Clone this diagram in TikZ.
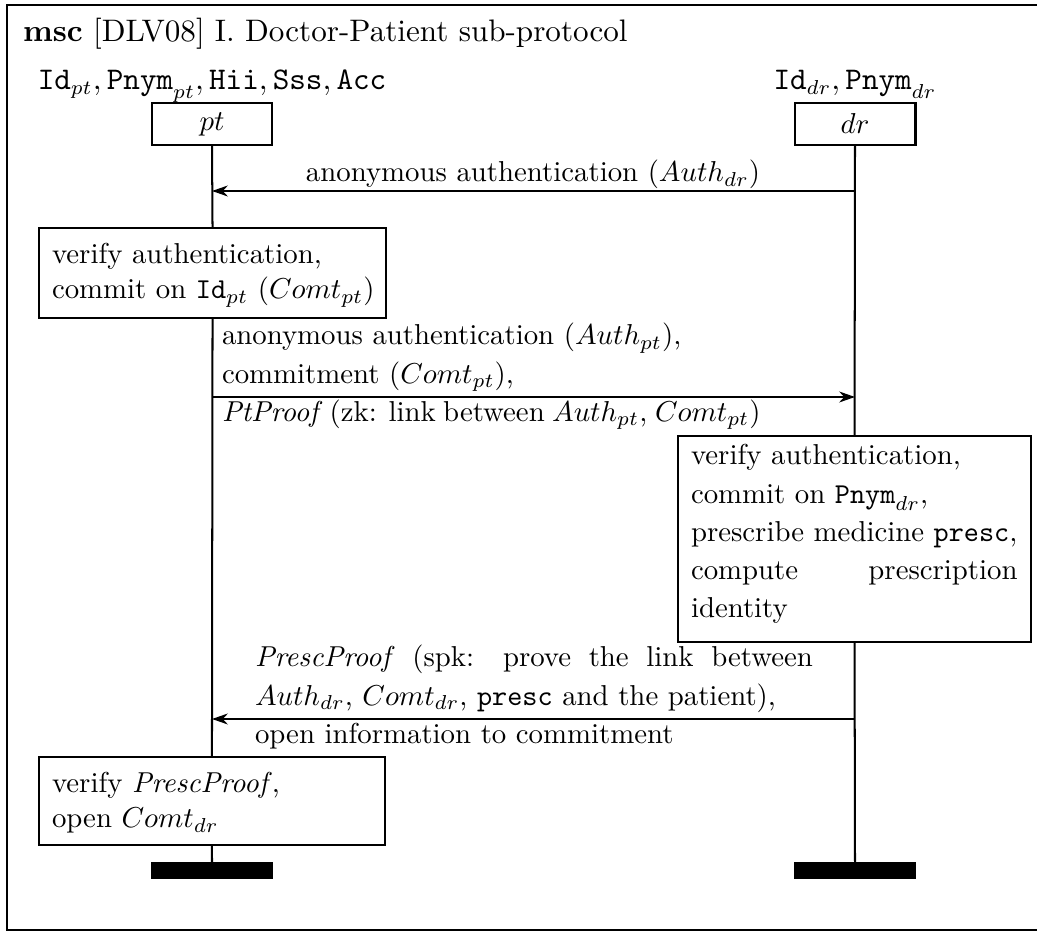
\documentclass[tikz,border=0pt]{standalone}
\usetikzlibrary{arrows.meta}
\tolerance=9999
\hyphenpenalty=10000
\exhyphenpenalty=10000
\begin{document}
\begin{tikzpicture}[x=0.3472pt, y=-0.3472pt,
  every node/.style={inner sep=0pt, outer sep=0pt, font=\fontsize{10}{13.2}\selectfont},
  lw/.style={line width=0.7pt},
  instbox/.style={draw, line width=0.7pt, minimum width=42.0pt, minimum height=14.6pt},
  actbox/.style={draw, line width=0.7pt, anchor=north west},
  bar/.style={fill=black, draw=none, minimum width=42.4pt, minimum height=5.9pt, anchor=north},
  txt/.style={anchor=base west, text width=187pt, align=justify},
  boxtxt/.style={anchor=base west, text width=115pt, align=left, font=\fontsize{10}{12.1}\selectfont},
  headtxt/.style={anchor=base, font=\fontsize{10.7}{13}\selectfont},
  msg/.style={line width=0.7pt, -{Stealth[length=5.5pt, width=3.8pt, inset=1.8pt]}}
]
\useasboundingbox (0,0) rectangle (1037,931);
% frame
\draw[line width=0.7pt] (1045,5) -- (7,5) -- (7,930) -- (1045,930);
\node[anchor=base west, font=\fontsize{10.8}{13}\selectfont] (title) at (23,42) {\textbf{msc} [DLV08] I. Doctor-Patient sub-protocol};

% instances
\node[headtxt] (ptlab) at (212,90) {$\mathtt{Id}_{pt}, \mathtt{Pnym}_{pt}, \mathtt{Hii}, \mathtt{Sss}, \mathtt{Acc}$};
\node[headtxt] (drlab) at (855,90) {$\mathtt{Id}_{dr}, \mathtt{Pnym}_{dr}$};
\node[instbox] (ptbox) at (212,124) {$pt$};
\node[instbox] (drbox) at (855,124) {$dr$};

% actions
\node[actbox, minimum width=120.5pt, minimum height=31.25pt] (act1) at (39,228) {};
\node[boxtxt] (act1t) at (52,264) {verify authentication,\\commit on $\mathtt{Id}_{pt}$ ($Comt_{pt}$)};

\node[actbox, minimum width=122.6pt, minimum height=71.5pt] (act2) at (678,436) {};
\node[anchor=base west, text width=113.4pt, align=justify] (act2t) at (691,465) {verify authentication,\\ commit on $\mathtt{Pnym}_{dr}$,\\ prescribe medicine \texttt{presc},\\ compute prescription identity};

\node[actbox, minimum width=120.1pt, minimum height=30.6pt] (act3) at (39,757) {};
\node[boxtxt] (act3t) at (52,793) {verify {\itshape PrescProof\/},\\open $Comt_{dr}$};

% end bars
\node[bar] (ptbar) at (212,862) {};
\node[bar] (drbar) at (855,862) {};

% lifelines
\draw[lw] (ptbox.south) -- (act1.north);
\draw[lw] (act1.south) -- (act3.north);
\draw[lw] (act3.south) -- (ptbar.north);
\draw[lw] (drbox.south) -- (act2.north);
\draw[lw] (act2.south) -- (drbar.north);

% messages
\coordinate (m1a) at (855,191);
\coordinate (m1b) at (212,191);
\draw[msg] (m1a) -- (m1b);
\node[anchor=base] (m1l) at (533,182) {anonymous authentication ($Auth_{dr}$)};

\coordinate (m2a) at (212,397);
\coordinate (m2b) at (855,397);
\draw[msg] (m2a) -- (m2b);
\node[txt] (m2l) at (222,345) {anonymous authentication ($Auth_{pt}$),\\ commitment ($Comt_{pt}$),\\ \textit{PtProof} (zk: link between $Auth_{pt}$, $Comt_{pt}$)};

\coordinate (m3a) at (855,719);
\coordinate (m3b) at (212,719);
\draw[msg] (m3a) -- (m3b);
\node[anchor=base west, text width=193.7pt, align=justify] (m3l) at (255,667) {\textit{PrescProof} (spk: prove the link between $Auth_{dr}$, $Comt_{dr}$, \texttt{presc} and the patient),\\ open information to commitment};
\end{tikzpicture}
\end{document}
